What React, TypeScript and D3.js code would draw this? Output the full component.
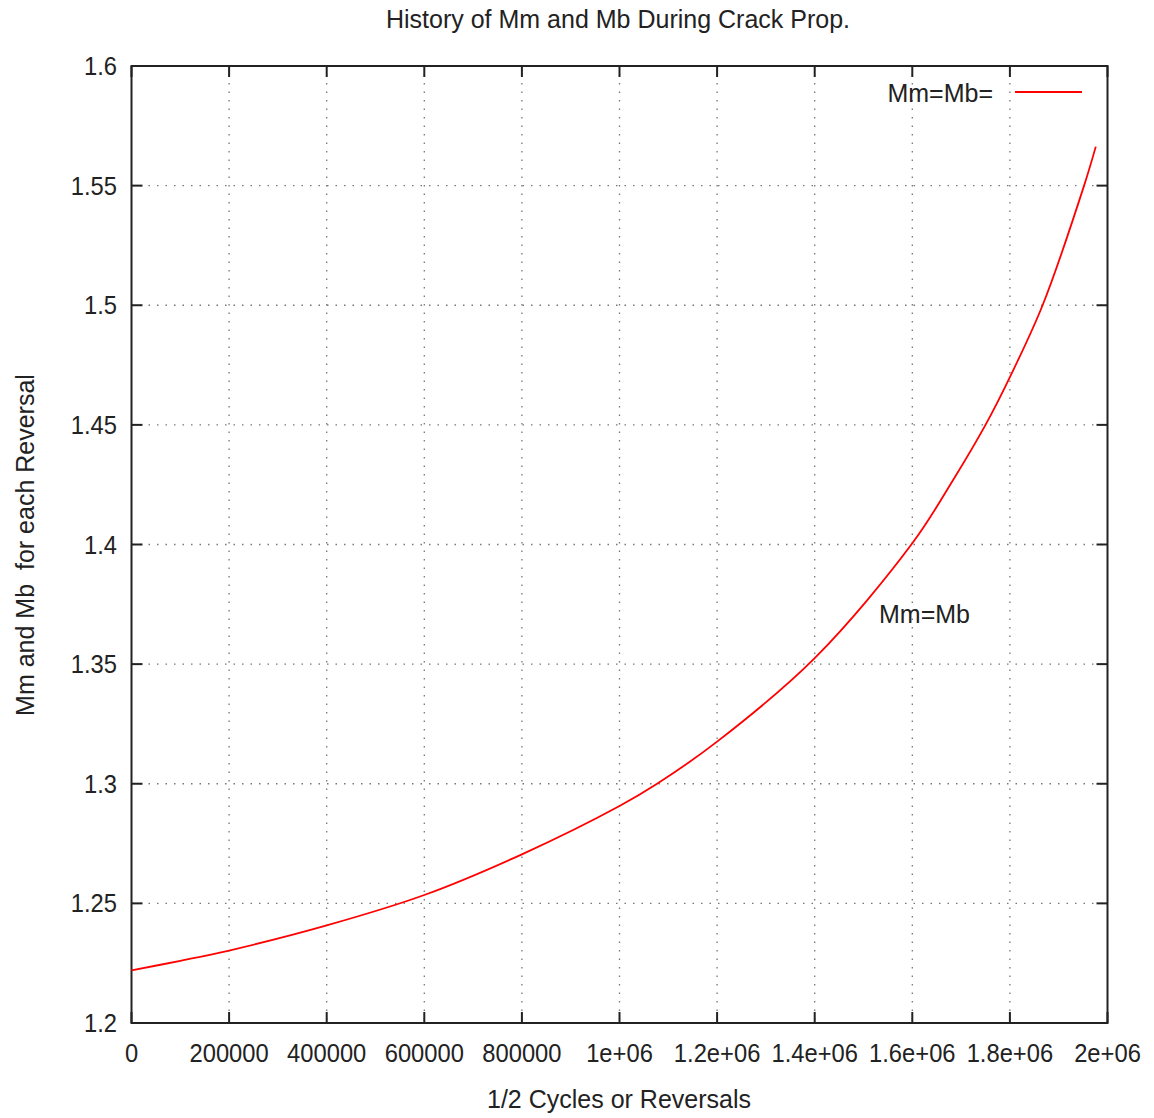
import React from "react";
import * as d3 from "d3";

const xValues = [0, 100000, 200000, 400000, 600000, 800000, 1000000, 1077000, 1200000, 1400000, 1600000, 1685500, 1750000, 1800000, 1867000, 1952000, 1976000];
const yValues = [1.222, 1.226, 1.2303, 1.2408, 1.2535, 1.2705, 1.2907, 1.3, 1.3176, 1.3525, 1.4005, 1.4276, 1.45, 1.47, 1.5, 1.55, 1.5663];
const xTicks = [0, 200000, 400000, 600000, 800000, 1000000, 1200000, 1400000, 1600000, 1800000, 2000000];
const xTickLabels = ["0", "200000", "400000", "600000", "800000", "1e+06", "1.2e+06", "1.4e+06", "1.6e+06", "1.8e+06", "2e+06"];
const yTicks = [1.2, 1.25, 1.3, 1.35, 1.4, 1.45, 1.5, 1.55, 1.6];
const yTickLabels = ["1.2", "1.25", "1.3", "1.35", "1.4", "1.45", "1.5", "1.55", "1.6"];

const W = 1154, H = 1118;
const L = 131.5, R = 1107.5, T = 66, B = 1023;
const FONT = "'Liberation Sans', Arial, sans-serif";
const FS = 25;

function T2({ x, y, anchor, children, size = FS, rotate = 0, sx = 1 }: any) {
  return (
    <g transform={`translate(${x},${y}) rotate(${rotate}) scale(${sx},1)`}>
      <text x={0} y={0} textAnchor={anchor} fontFamily={FONT} fontSize={size} fill="#222" style={{ whiteSpace: "pre" }}>{children}</text>
    </g>
  );
}

export default function App() {
  const x = d3.scaleLinear().domain([0, 2000000]).range([L, R]);
  const y = d3.scaleLinear().domain([1.2, 1.6]).range([B, T]);
  const data = xValues.map((v, i) => [v, yValues[i]] as [number, number]);
  const line = d3.line<[number, number]>().x(d => x(d[0])).y(d => y(d[1])).curve(d3.curveCatmullRom.alpha(0.5));
  const tick = 11;
  return (
    <svg width={W} height={H} style={{ position: "absolute", left: 0, top: 0, background: "#fff" }}>
      <rect x={0} y={0} width={W} height={H} fill="#fff" />
      {xTicks.slice(1, -1).map((t, i) => (
        <line key={"gx" + i} x1={x(t)} x2={x(t)} y1={T} y2={B} stroke="#777" strokeWidth={1.3} strokeDasharray="1.5,7" />
      ))}
      {yTicks.slice(1, -1).map((t, i) => (
        <line key={"gy" + i} x1={L} x2={R} y1={y(t)} y2={y(t)} stroke="#777" strokeWidth={1.3} strokeDasharray="1.5,7" />
      ))}
      {xTicks.map((t, i) => (
        <g key={"tx" + i}>
          <line x1={x(t)} x2={x(t)} y1={B} y2={B - tick} stroke="#222" strokeWidth={2} />
          <line x1={x(t)} x2={x(t)} y1={T} y2={T + tick} stroke="#222" strokeWidth={2} />
          <T2 x={x(t)} y={1062} anchor="middle" sx={0.95}>{xTickLabels[i]}</T2>
        </g>
      ))}
      {yTicks.map((t, i) => (
        <g key={"ty" + i}>
          <line x1={L} x2={L + tick} y1={y(t)} y2={y(t)} stroke="#222" strokeWidth={2} />
          <line x1={R} x2={R - tick} y1={y(t)} y2={y(t)} stroke="#222" strokeWidth={2} />
          <T2 x={117} y={y(t) + 9} anchor="end" sx={0.95}>{yTickLabels[i]}</T2>
        </g>
      ))}
      <rect x={L} y={T} width={R - L} height={B - T} fill="none" stroke="#222" strokeWidth={2} />
      <path d={line(data) || ""} fill="none" stroke="#ff0000" strokeWidth={1.8} />
      <T2 x={993} y={102} anchor="end">Mm=Mb=</T2>
      <line x1={1015} x2={1082} y1={92} y2={92} stroke="#ff0000" strokeWidth={1.8} />
      <T2 x={879} y={623} anchor="start">Mm=Mb</T2>
      <T2 x={618} y={28} anchor="middle">History of Mm and Mb During Crack Prop.</T2>
      <T2 x={619} y={1108} anchor="middle">1/2 Cycles or Reversals</T2>
      <T2 x={34} y={545} anchor="middle" rotate={-90}>Mm and Mb  for each Reversal</T2>
    </svg>
  );
}
